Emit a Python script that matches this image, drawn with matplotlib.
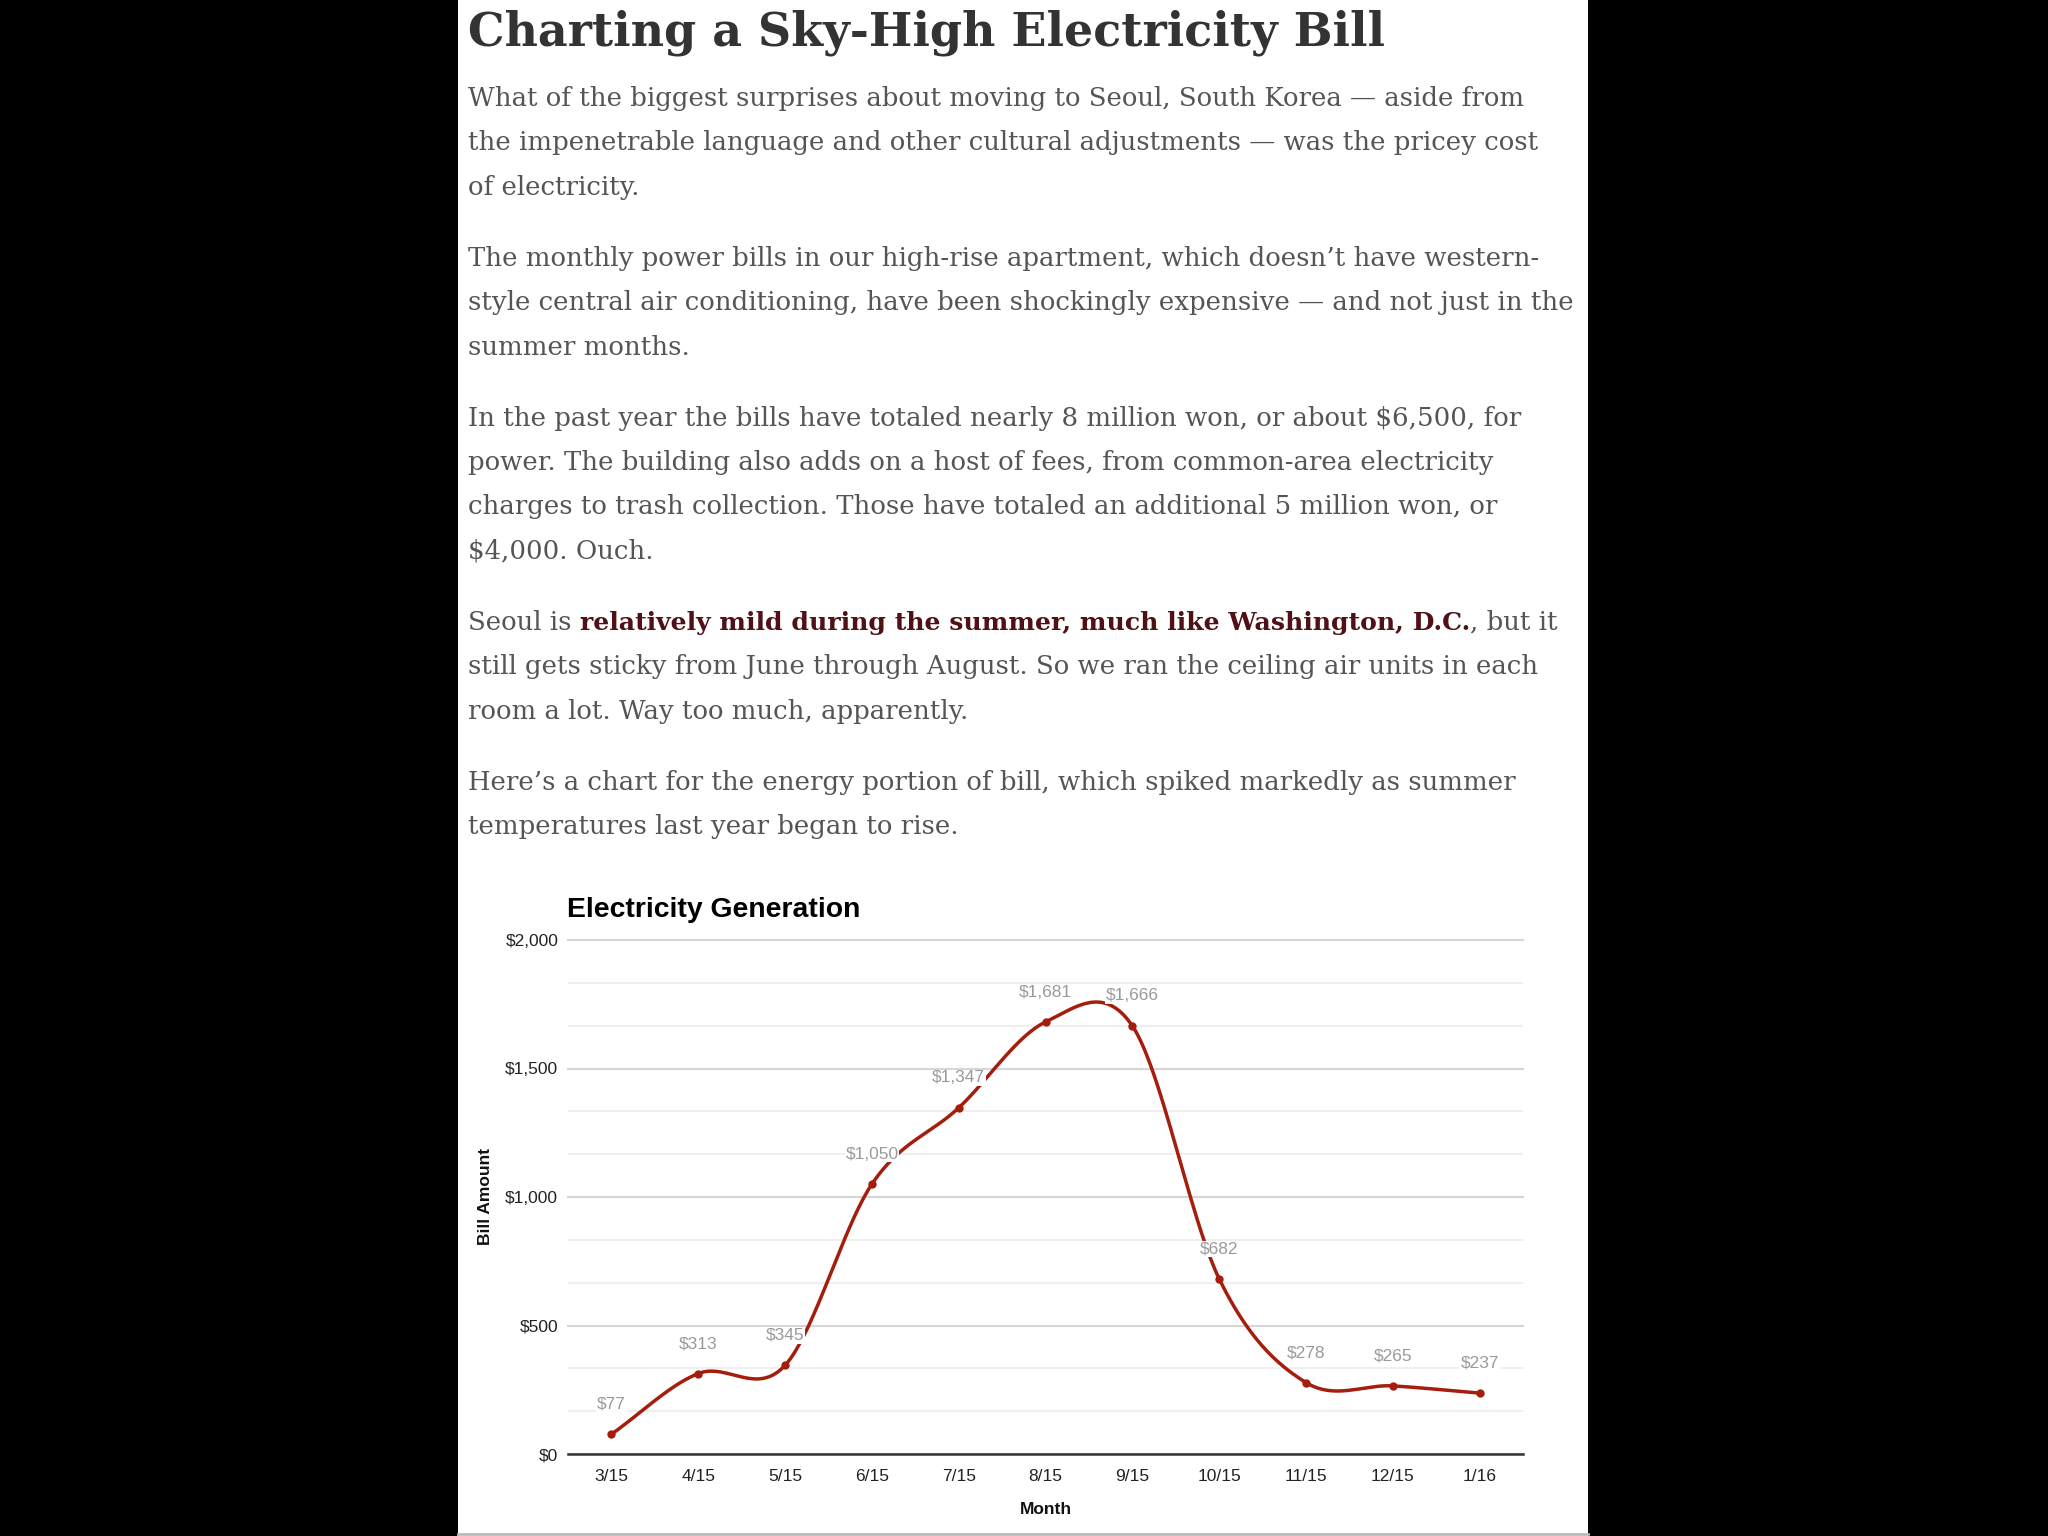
import numpy as np
import matplotlib.pyplot as plt

months = ["3/15", "4/15", "5/15", "6/15", "7/15", "8/15", "9/15", "10/15", "11/15", "12/15", "1/16"]
bills = [77, 313, 345, 1050, 1347, 1681, 1666, 682, 278, 265, 237]
y_ticks = [0, 500, 1000, 1500, 2000]
y_tick_labels = ["$0", "$500", "$1,000", "$1,500", "$2,000"]

title = "Charting a Sky-High Electricity Bill"
paragraphs = [
    ["What of the biggest surprises about moving to Seoul, South Korea \u2014 aside from",
     "the impenetrable language and other cultural adjustments \u2014 was the pricey cost",
     "of electricity."],
    ["The monthly power bills in our high-rise apartment, which doesn\u2019t have western-",
     "style central air conditioning, have been shockingly expensive \u2014 and not just in the",
     "summer months."],
    ["In the past year the bills have totaled nearly 8 million won, or about $6,500, for",
     "power. The building also adds on a host of fees, from common-area electricity",
     "charges to trash collection. Those have totaled an additional 5 million won, or",
     "$4,000. Ouch."],
    [[("Seoul is ", False), ("relatively mild during the summer, much like Washington, D.C.", True), (", but it", False)],
     "still gets sticky from June through August. So we ran the ceiling air units in each",
     "room a lot. Way too much, apparently."],
    ["Here\u2019s a chart for the energy portion of bill, which spiked markedly as summer",
     "temperatures last year began to rise."],
]

W, H = 2048, 1536
fig = plt.figure(figsize=(W / 100, H / 100), dpi=100, facecolor="black")
renderer = fig.canvas.get_renderer()


def fx(px):
    return px / W


def fy(py):
    return 1 - py / H


# white article page (kept below the chart axes)
fig.patches.append(plt.Rectangle((fx(458), 0), fx(1588 - 458), 1, transform=fig.transFigure,
                                 facecolor="white", edgecolor="none", zorder=-2))
fig.lines.append(plt.Line2D([fx(458), fx(1588)], [fy(1534), fy(1534)], transform=fig.transFigure,
                            color="#bbbbbb", lw=2, zorder=-1))


def fit_size(s, width, **kw):
    t = fig.text(0, 0, s, fontsize=20, parse_math=False, **kw)
    w = t.get_window_extent(renderer).width
    t.remove()
    return 20 * width / w


serif = "DejaVu Serif"
text_x = 468

title_size = fit_size(title, 917, family=serif, weight="bold")
fig.text(fx(text_x), fy(45), title, family=serif, weight="bold", fontsize=title_size,
         color="#333333", va="baseline", parse_math=False)

body_size = fit_size(paragraphs[0][1], 1067, family=serif)
bold_size = fit_size(paragraphs[3][0][1][0], 893, family=serif, weight="bold")

baseline = 106
for para in paragraphs:
    for line in para:
        if isinstance(line, str):
            fig.text(fx(text_x), fy(baseline), line, family=serif, fontsize=body_size,
                     color="#555555", va="baseline", parse_math=False)
        else:
            x = text_x
            for piece, bold in line:
                t = fig.text(fx(x), fy(baseline), piece, family=serif,
                             fontsize=bold_size if bold else body_size,
                             weight="bold" if bold else "normal",
                             color="#4f1016" if bold else "#555555",
                             va="baseline", parse_math=False)
                x += t.get_window_extent(renderer).width
        baseline += 44.4
    baseline += 26.6

# chart
sans = "Liberation Sans"
ax = fig.add_axes([fx(568), fy(1454), fx(1523 - 568), (1454 - 940) / H])
ax.set_facecolor("none")
xi = np.arange(len(months))
ax.set_xlim(-0.5, len(months) - 0.5)
ax.set_ylim(0, 2000)

# smooth curve through the points (Catmull-Rom style, like the original chart)
p = np.array(bills, dtype=float)
m = np.gradient(p)
cx, cy = [], []
for i in range(len(p) - 1):
    t = np.linspace(0, 1, 40)
    h00 = 2 * t**3 - 3 * t**2 + 1
    h10 = t**3 - 2 * t**2 + t
    h01 = -2 * t**3 + 3 * t**2
    h11 = t**3 - t**2
    cx.extend(xi[i] + t)
    cy.extend(h00 * p[i] + h10 * m[i] + h01 * p[i + 1] + h11 * m[i + 1])

line_color = "#a51d0c"
ax.plot(cx, cy, color=line_color, lw=2.5, zorder=3, solid_capstyle="round")
ax.plot(xi, bills, "o", color=line_color, ms=5, zorder=4)

for i, v in enumerate(bills):
    ax.annotate(f"${v:,}", (xi[i], v), xytext=(0, 21.5), textcoords="offset points",
                ha="center", va="center", fontsize=12.5, family=sans, color="#9a9a9a",
                bbox=dict(facecolor="white", edgecolor="none", pad=0.5), zorder=5,
                parse_math=False)

ax.set_yticks(y_ticks)
ax.set_yticklabels(y_tick_labels)
ax.set_yticks(np.arange(0, 2001, 500 / 3), minor=True)
ax.grid(axis="y", which="major", color="#d6d6d6", lw=1.5)
ax.grid(axis="y", which="minor", color="#eeeeee", lw=1.3)
ax.set_axisbelow(True)
for gl in ax.get_ygridlines():
    gl.set_clip_on(False)
ax.axhline(0, color="#333333", lw=1.8, zorder=2, clip_on=False)

ax.set_xticks(xi)
ax.set_xticklabels(months)
ax.tick_params(axis="y", which="both", length=0, pad=7, labelsize=12.5, labelcolor="#222222")
ax.tick_params(axis="x", which="both", length=0, pad=11, labelsize=12.5, labelcolor="#222222")
for lab in ax.get_xticklabels() + ax.get_yticklabels():
    lab.set_family(sans)
for s in ax.spines.values():
    s.set_visible(False)

ax.set_xlabel("Month", family=sans, weight="bold", fontsize=12.5, color="#111111")
ax.xaxis.set_label_coords(0.5, (1454 - 1510) / 514)
ax.xaxis.label.set_va("center")
ax.set_ylabel("Bill Amount", family=sans, weight="bold", fontsize=12.5, color="#111111")
ax.yaxis.set_label_coords((485 - 568) / 955, (1454 - 1196) / 514)
ax.yaxis.label.set_va("center")

ax.text(-0.001, (1454 - 910) / 514, "Electricity Generation", transform=ax.transAxes,
        family=sans, weight="bold", fontsize=20.4, color="black", ha="left", va="center")

fig.savefig("out.png", dpi=100, facecolor="black")
